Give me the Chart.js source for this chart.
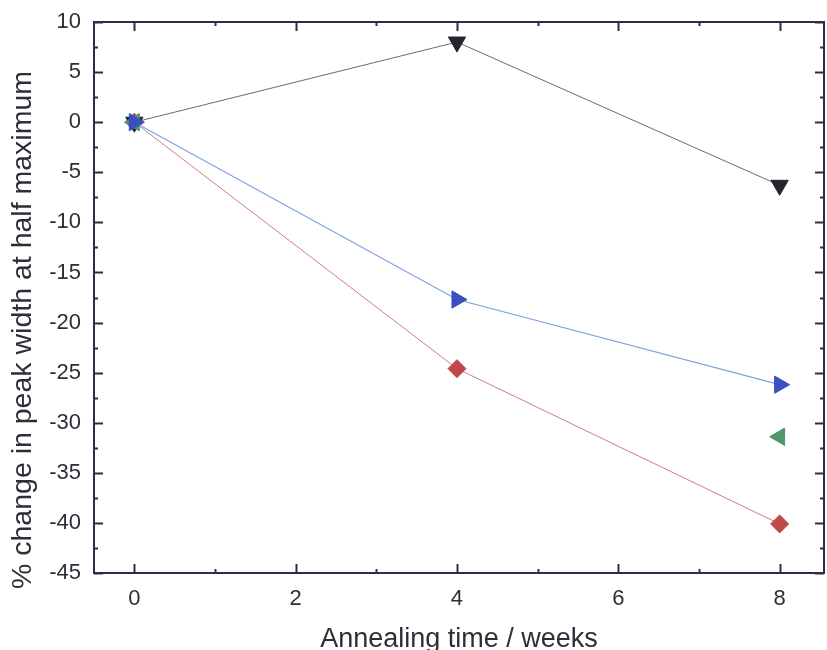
<!DOCTYPE html>
<html>
<head>
<meta charset="utf-8">
<script src="https://cdn.jsdelivr.net/npm/chart.js@4.4.1/dist/chart.umd.min.js"></script>
<style>
  html, body { margin: 0; padding: 0; background: #fff; }
  #caixa { width: 827px; height: 650px; }
</style>
</head>
<body>
<div id="caixa"><canvas id="cvsLargura" width="827" height="650"></canvas></div>
<script>
//dados do grafico
const semanas = [0, 4, 8];
const serieTriBaixo = [0, 8.0, -6.3];
const serieTriDireita = [0, -17.7, -26.2];
const serieLosango = [0, -24.6, -40.1];
const semanasVerde = [0, 8];
const serieTriEsquerda = [0, -31.4];

const ticksX = [0, 2, 4, 6, 8];
const ticksXMenor = [1, 3, 5, 7];
const ticksY = [10, 5, 0, -5, -10, -15, -20, -25, -30, -35, -40, -45];
const ticksYMenor = [7.5, 2.5, -2.5, -7.5, -12.5, -17.5, -22.5, -27.5, -32.5, -37.5, -42.5];

const tituloX = "Annealing time / weeks";
const tituloY = "% change in peak width at half maximum";

//puxando o canvas
const ctxLargura = document.getElementById("cvsLargura");

const corEixo = "#2b2e48";
const corTexto = "#2e2e38";
const fonte = "'Liberation Sans', Arial, sans-serif";

function pontos(xs, ys) {
  return xs.map((x, i) => ({ x: x, y: ys[i] }));
}

//moldura com ticks para dentro nos quatro lados + titulos dos eixos
const moldura = {
  id: "moldura",
  afterDraw(chart) {
    const ctx = chart.ctx;
    const area = chart.chartArea;
    const sx = chart.scales.x;
    const sy = chart.scales.y;

    ctx.save();
    ctx.strokeStyle = corEixo;
    ctx.lineWidth = 2;
    ctx.strokeRect(area.left, area.top, area.right - area.left, area.bottom - area.top);

    ctx.beginPath();
    const tickX = (v, tam) => {
      const px = Math.round(sx.getPixelForValue(v)) + 0.5;
      ctx.moveTo(px, area.bottom); ctx.lineTo(px, area.bottom - tam);
      ctx.moveTo(px, area.top); ctx.lineTo(px, area.top + tam);
    };
    const tickY = (v, tam) => {
      const py = Math.round(sy.getPixelForValue(v)) + 0.5;
      ctx.moveTo(area.left, py); ctx.lineTo(area.left + tam, py);
      ctx.moveTo(area.right, py); ctx.lineTo(area.right - tam, py);
    };
    ticksX.forEach(v => tickX(v, 9));
    ticksXMenor.forEach(v => tickX(v, 4));
    ticksY.forEach(v => tickY(v, 9));
    ticksYMenor.forEach(v => tickY(v, 4));
    ctx.stroke();

    ctx.fillStyle = corTexto;
    ctx.font = "27px " + fonte;
    ctx.textAlign = "center";
    ctx.textBaseline = "alphabetic";
    ctx.fillText(tituloX, (area.left + area.right) / 2, 647);

    ctx.translate(31, 330);
    ctx.rotate(-Math.PI / 2);
    ctx.font = "28.5px " + fonte;
    ctx.fillText(tituloY, 0, 0);
    ctx.restore();
  }
};

new Chart(ctxLargura, {
  type: "scatter",
  data: {
    datasets: [
      {
        label: "direita",
        data: pontos(semanas, serieTriDireita),
        showLine: true,
        borderColor: "#7fa2e2",
        borderWidth: 1.2,
        pointStyle: "triangle",
        rotation: 90,
        pointRadius: 10,
        pointBackgroundColor: "#3b4fc2",
        pointBorderColor: "#3b4fc2",
        pointBorderWidth: 1
      },
      {
        label: "esquerda",
        data: pontos(semanasVerde, serieTriEsquerda),
        showLine: false,
        pointStyle: "triangle",
        rotation: -90,
        pointRadius: 10,
        pointBackgroundColor: "#4c9868",
        pointBorderColor: "#4c9868",
        pointBorderWidth: 1
      },
      {
        label: "baixo",
        data: pontos(semanas, serieTriBaixo),
        showLine: true,
        borderColor: "#6a6a74",
        borderWidth: 1,
        pointStyle: "triangle",
        rotation: 180,
        pointRadius: 10,
        pointBackgroundColor: "#25252f",
        pointBorderColor: "#25252f",
        pointBorderWidth: 1
      },
      {
        label: "losango",
        data: pontos(semanas, serieLosango),
        showLine: true,
        borderColor: "#d27c84",
        borderWidth: 1,
        pointStyle: "rectRot",
        pointRadius: 9,
        pointBackgroundColor: "#c0474c",
        pointBorderColor: "#c0474c",
        pointBorderWidth: 1
      }
    ]
  },
  options: {
    responsive: false,
    animation: false,
    layout: { autoPadding: false, padding: { top: 22, right: 3, left: 0, bottom: 0 } },
    plugins: {
      legend: { display: false },
      tooltip: { enabled: false }
    },
    scales: {
      x: {
        type: "linear",
        min: -0.5,
        max: 8.55,
        afterBuildTicks: s => { s.ticks = ticksX.map(v => ({ value: v })); },
        afterFit: s => {
          s.height = 650 - 573;
          s.paddingLeft = 0;
          s.paddingRight = 0;
        },
        grid: { display: false, drawTicks: false },
        border: { display: false },
        ticks: {
          padding: 13,
          color: corTexto,
          font: { family: fonte, size: 22 }
        }
      },
      y: {
        type: "linear",
        min: -45,
        max: 10,
        afterBuildTicks: s => { s.ticks = ticksY.map(v => ({ value: v })); },
        afterFit: s => {
          s.width = 94;
          s.paddingTop = 0;
          s.paddingBottom = 0;
        },
        grid: { display: false, drawTicks: false },
        border: { display: false },
        ticks: {
          padding: 13,
          color: corTexto,
          font: { family: fonte, size: 22 }
        }
      }
    }
  },
  plugins: [moldura]
});
</script>
</body>
</html>
